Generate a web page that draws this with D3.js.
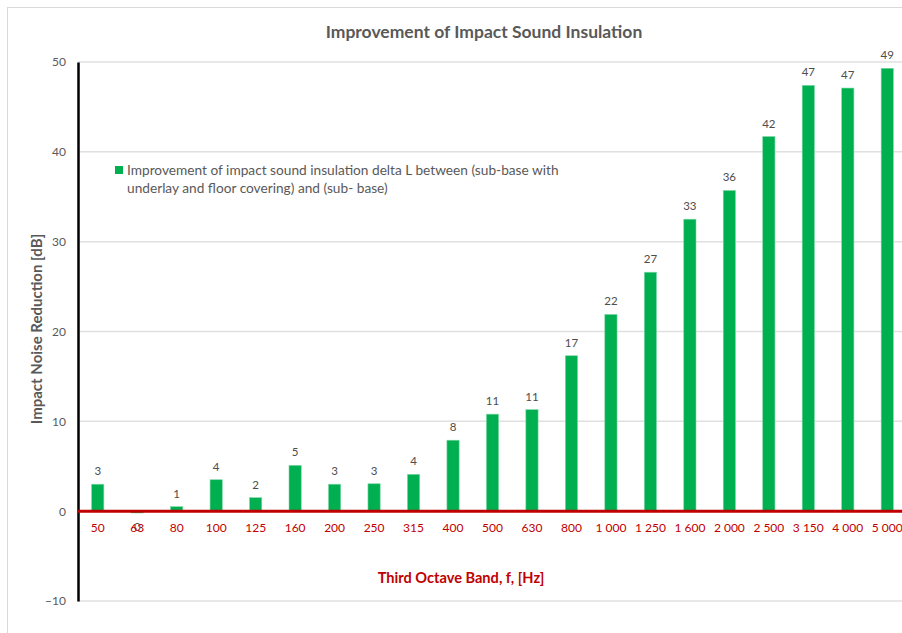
<!DOCTYPE html>
<html>
<head>
<meta charset="utf-8">
<script src="https://cdn.jsdelivr.net/npm/d3@7"></script>
<style>
  body { margin: 0; background: #fff; }
  text { font-family: Lato, "Open Sans", sans-serif; }
</style>
</head>
<body>
<script>
    // data
    var bands = ["50", "63", "80", "100", "125", "160", "200", "250", "315", "400", "500",
                 "630", "800", "1 000", "1 250", "1 600", "2 000", "2 500", "3 150", "4 000", "5 000"];
    var deltaL = [3.0, -0.2, 0.5, 3.5, 1.5, 5.1, 3.0, 3.05, 4.1, 7.9, 10.8,
                  11.3, 17.3, 21.9, 26.6, 32.5, 35.7, 41.7, 47.4, 47.1, 49.3];
    var yTicks = [-10, 0, 10, 20, 30, 40, 50];
    var legendLines = ["Improvement of impact sound insulation delta L between (sub-base with",
                       "underlay and floor covering) and (sub- base)"];

    var svg = d3.select("body").append("svg")
                .attr("width", 902)
                .attr("height", 633);

    // chart frame
    svg.append("rect")
       .attr("x", 7.5).attr("y", 7.5)
       .attr("width", 920).attr("height", 640)
       .attr("fill", "#fff")
       .attr("stroke", "#d9d9d9");

    var plotL = 78, plotR = 907, plotT = 62, plotB = 601;

    var x = d3.scaleBand().domain(bands).range([plotL, plotR]).paddingInner(0.69).paddingOuter(0.345);
    var y = d3.scaleLinear().domain([-10, 50]).range([plotB, plotT]);

    // grid
    svg.append("g").selectAll("line")
       .data(yTicks).enter().append("line")
       .attr("x1", plotL).attr("x2", plotR)
       .attr("y1", function (d) { return y(d); })
       .attr("y2", function (d) { return y(d); })
       .attr("stroke", "#e0e0e0")
       .attr("stroke-width", 1.5);

    // y axis
    var yAxis = svg.append("g")
       .attr("transform", "translate(" + plotL + ",0)")
       .call(d3.axisLeft(y).tickValues(yTicks).tickSize(0).tickPadding(12));
    yAxis.select(".domain").attr("stroke", "#000").attr("stroke-width", 2.5);
    yAxis.selectAll("text").attr("fill", "#595959").attr("font-size", 12);

    // bars
    svg.append("g").selectAll("rect")
       .data(deltaL).enter().append("rect")
       .attr("x", function (d, i) { return x(bands[i]); })
       .attr("width", x.bandwidth())
       .attr("y", function (d) { return y(Math.max(0, d)); })
       .attr("height", function (d) { return Math.abs(y(d) - y(0)); })
       .attr("fill", "#00b050")
       .attr("stroke", "#7fd8a7")
       .attr("stroke-width", 0.6);

    // value labels
    svg.append("g").selectAll("text")
       .data(deltaL).enter().append("text")
       .attr("x", function (d, i) { return x(bands[i]) + x.bandwidth() / 2; })
       .attr("y", function (d) { return d >= 0 ? y(d) - 9 : y(d) + 18; })
       .attr("text-anchor", "middle")
       .attr("font-size", 11.5)
       .attr("fill", "#4d4d4d")
       .text(function (d) { return String(Math.round(d)); });

    // zero line
    svg.append("line")
       .attr("x1", plotL).attr("x2", plotR)
       .attr("y1", y(0)).attr("y2", y(0))
       .attr("stroke", "#c00000")
       .attr("stroke-width", 3);

    // category labels
    var xAxis = svg.append("g")
       .attr("transform", "translate(0," + y(0) + ")")
       .call(d3.axisBottom(x).tickSize(0).tickPadding(12));
    xAxis.select(".domain").remove();
    xAxis.selectAll("text").attr("fill", "#c00000").attr("font-size", 12);

    // titles
    svg.append("text")
       .attr("x", 484).attr("y", 38)
       .attr("text-anchor", "middle")
       .attr("font-size", 17.5).attr("font-weight", "bold")
       .attr("fill", "#595959")
       .text("Improvement of Impact Sound Insulation");

    svg.append("text")
       .attr("x", 461).attr("y", 583)
       .attr("text-anchor", "middle")
       .attr("font-size", 14.6).attr("font-weight", "bold")
       .attr("fill", "#c00000")
       .text("Third Octave Band, f, [Hz]");

    svg.append("text")
       .attr("transform", "translate(42,329) rotate(-90)")
       .attr("text-anchor", "middle")
       .attr("font-size", 15).attr("font-weight", "bold")
       .attr("fill", "#595959")
       .text("Impact Noise Reduction [dB]");

    // legend
    svg.append("rect")
       .attr("x", 115).attr("y", 166)
       .attr("width", 8).attr("height", 8)
       .attr("fill", "#00b050");

    svg.append("g").selectAll("text")
       .data(legendLines).enter().append("text")
       .attr("x", 127)
       .attr("y", function (d, i) { return 175 + i * 18; })
       .attr("font-size", 13.7)
       .attr("fill", "#595959")
       .text(function (d) { return d; });
</script>
</body>
</html>
